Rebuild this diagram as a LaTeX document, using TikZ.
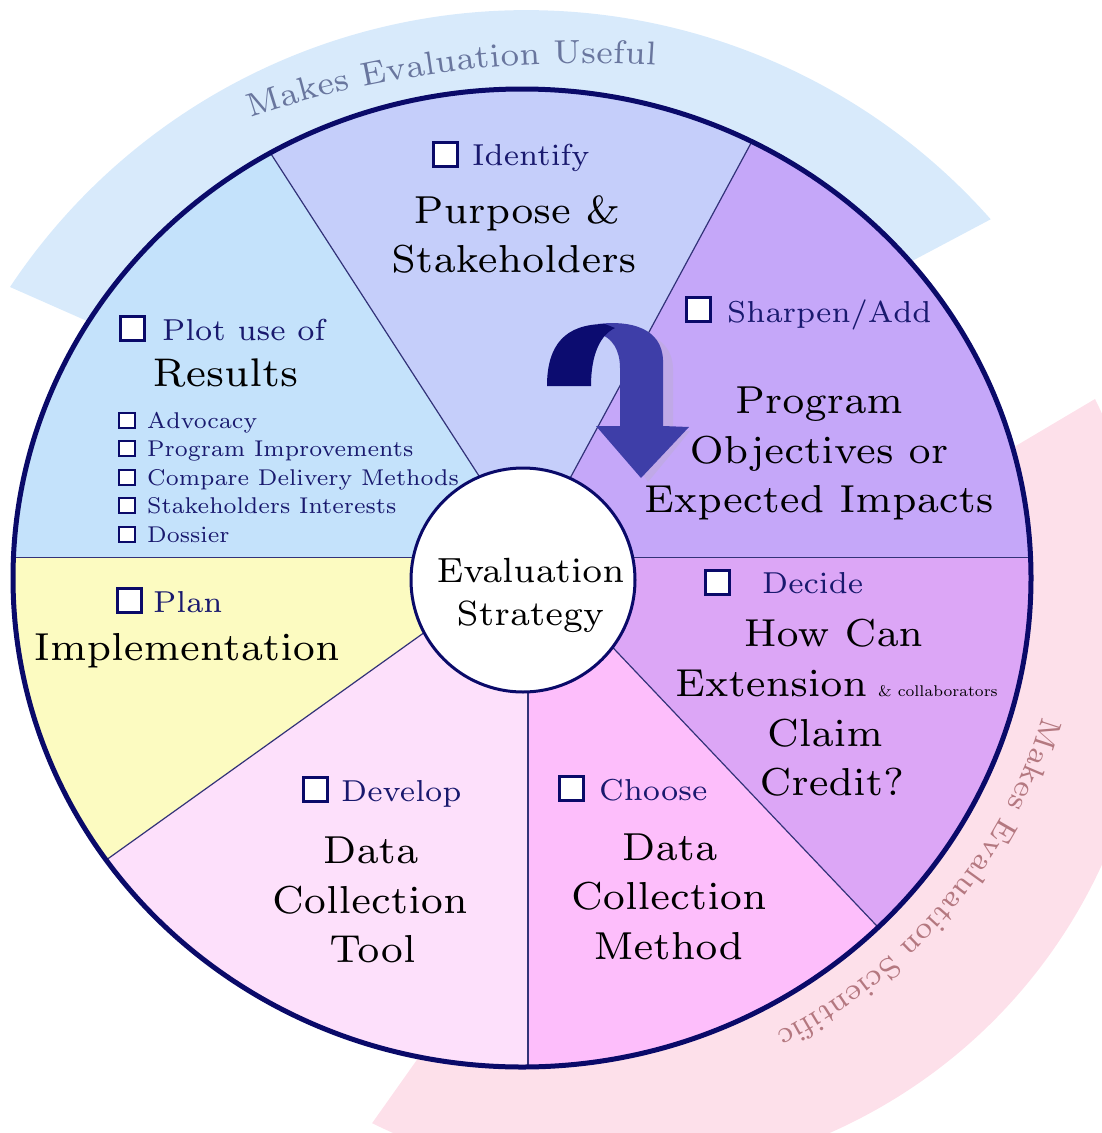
\documentclass[tikz,border=0pt]{standalone}
\usetikzlibrary{decorations.text}
\font\fbig=cmr7 at 39pt
\font\flab=cmr7 at 30.3pt
\font\flist=cmr7 at 22.8pt
\font\fres=cmr7 at 40pt
\font\fctr=cmr7 at 35pt
\font\fsmall=cmr7 at 15.5pt
\font\fbandB=cmr7 at 33pt
\font\fbandP=cmr7 at 30.5pt
\definecolor{cRes}{RGB}{196,226,251}
\definecolor{cPur}{RGB}{197,206,250}
\definecolor{cPro}{RGB}{197,167,249}
\definecolor{cDec}{RGB}{220,166,246}
\definecolor{cCho}{RGB}{253,190,251}
\definecolor{cDev}{RGB}{253,224,251}
\definecolor{cPla}{RGB}{252,251,193}
\definecolor{bandB}{RGB}{216,234,251}
\definecolor{bandP}{RGB}{253,224,234}
\definecolor{navy}{RGB}{10,10,105}
\definecolor{divc}{RGB}{50,50,120}
\definecolor{labc}{RGB}{25,25,110}
\definecolor{txtB}{RGB}{105,118,158}
\definecolor{txtP}{RGB}{180,120,128}
\definecolor{arrL}{RGB}{62,62,168}
\definecolor{arrD}{RGB}{12,12,112}
\begin{document}
\begin{tikzpicture}[x=1pt,y=-1pt,
  big/.style={font=\fbig, text=black, anchor=base, inner sep=0pt},
  lab/.style={font=\flab, text=labc, anchor=base west, inner sep=0pt},
  lst/.style={font=\flist, text=labc, anchor=base west, inner sep=0pt},
  cbox/.style={draw=navy, fill=white, line width=3pt, minimum size=24pt, inner sep=0pt},
  sbox/.style={draw=navy, fill=white, line width=2pt, minimum width=16pt, minimum height=15pt, inner sep=0pt},
  divider/.style={draw=divc, line width=1.2pt}]
\useasboundingbox (0,0) rectangle (1102,1133);
\clip (0,0) rectangle (1102,1133);
% bands
\fill[bandB] (10,287) arc[start angle=-146.4,end angle=-41.5,radius=620] -- (880,278) -- (522,578) -- (130,340) -- cycle;
\fill[bandP] (1095,399) arc[start angle=-26.4,end angle=116.3,radius=540] -- (426,1047) -- (522,578) -- (987,463) -- cycle;
\path[decorate, decoration={text along path, text align=center,
  text={|\fbandB\color{txtB}|Makes Evaluation Useful}}]
  ([shift={(-112.3:1067)}]586,1130) arc[start angle=-112.3, end angle=-82.3, radius=1067];
\path[decorate, decoration={text along path, text align=center,
  text={|\fbandP\color{txtP}|Makes Evaluation Scientific}}]
  ([shift={(1:540 and 515)}]522,578) arc[start angle=1, end angle=76, x radius=540, y radius=515];
% sectors
\begin{scope}
\clip (522,578) ellipse [x radius=509, y radius=489];
\fill[cRes] (523,580) -- (470,557.5) -- (-5,557.5) -- (-5,-5) -- (168.35,-5) -- (491.3,495) -- cycle;
\fill[cPur] (523,580) -- (491.3,495) -- (168.35,-5) -- (831,-5) -- (558.3,500) -- cycle;
\fill[cPro] (523,580) -- (558.3,500) -- (831,-5) -- (1107,-5) -- (1107,557.5) -- (575,557.5) -- cycle;
\fill[cDec] (523,580) -- (575,557.5) -- (1107,557.5) -- (1107,1138) -- (1078,1138) -- (570,602.4) -- cycle;
\fill[cCho] (523,580) -- (570,602.4) -- (1078,1138) -- (528,1138) -- (528,600) -- cycle;
\fill[cDev] (523,580) -- (528,600) -- (528,1138) -- (-5,1138) -- (-5,939.5) -- (470,599.8) -- cycle;
\fill[cPla] (523,580) -- (470,599.8) -- (-5,939.5) -- (-5,557.5) -- (470,557.5) -- cycle;
\draw[divider] (168.35,-5) -- (491.3,495);
\draw[divider] (831,-5) -- (558.3,500);
\draw[divider] (-5,557.5) -- (470,557.5);
\draw[divider] (575,557.5) -- (1107,557.5);
\draw[divider] (-5,939.5) -- (470,599.8);
\draw[divider] (528,600) -- (528,1138);
\draw[divider] (570,602.4) -- (1078,1138);
\end{scope}
\draw[navy, line width=5pt] (522,578) ellipse [x radius=509, y radius=489];
% curved arrow
\fill[black!30, opacity=0.25] (608,332) .. controls (640,328) and (672,336) .. (673,368) -- (673,430) -- (690,431) -- (648,482) -- (640,470) -- (630,432) -- (630,376) .. controls (630,358) and (622,346) .. (610,342) -- cycle;
\fill[arrL] (598,324) .. controls (630,320) and (662,328) .. (663,360) -- (663,426) -- (689,427) -- (641,478) -- (596,426) -- (620,426) -- (620,368) .. controls (620,350) and (612,338) .. (600,334) -- cycle;
\fill[arrD] (547,386) .. controls (547,345) and (565,324) .. (605,324) -- (615,328) .. controls (600,335) and (591,355) .. (591,386) -- cycle;
% hub
\node[draw=navy, line width=3pt, fill=white, circle, minimum size=224pt, inner sep=0pt] (hub) at (523,580) {};
\node[font=\fctr, anchor=base, inner sep=0pt] (ev1) at (530.5,582) {Evaluation};
\node[font=\fctr, anchor=base, inner sep=0pt] (ev2) at (530.5,625) {Strategy};
% Identify / Purpose
\node[cbox] (b-id) at (445,154) {};
\node[lab] (l-id) at (472,165) {Identify};
\node[big] (t-pur1) at (517,223) {Purpose \&};
\node[big] (t-pur2) at (514,272) {Stakeholders};
% Sharpen / Program
\node[cbox] (b-sh) at (698,309) {};
\node[lab] (l-sh) at (727,322) {Sharpen/Add};
\node[big] (t-pro1) at (819,413) {Program};
\node[big] (t-pro2) at (819,463) {Objectives or};
\node[big] (t-pro3) at (819,512) {Expected Impacts};
% Plot / Results
\node[cbox] (b-pl) at (132,328) {};
\node[lab] (l-pl) at (162,340) {Plot use of};
\node[big, font=\fres] (t-res) at (225.5,386) {Results};
\node[sbox] (s1) at (127,420) {};
\node[lst] (i1) at (147,428) {Advocacy};
\node[sbox] (s2) at (127,448.5) {};
\node[lst] (i2) at (147,456.5) {Program Improvements};
\node[sbox] (s3) at (127,477) {};
\node[lst] (i3) at (147,485) {Compare Delivery Methods};
\node[sbox] (s4) at (127,505.5) {};
\node[lst] (i4) at (147,513.5) {Stakeholders Interests};
\node[sbox] (s5) at (127,534) {};
\node[lst] (i5) at (147,542) {Dossier};
% Plan
\node[cbox] (b-pn) at (129,600) {};
\node[lab] (l-pn) at (153,612) {Plan};
\node[big] (t-imp) at (187,660) {Implementation};
% Decide
\node[cbox] (b-de) at (717,582) {};
\node[lab] (l-de) at (762,593) {Decide};
\node[big] (t-de1) at (833.5,646) {How Can};
\node[big, anchor=base west] (t-de2) at (675,696) {Extension};
\node[font=\fsmall, anchor=base west, inner sep=0pt] (t-de2b) at (878,696) {\& collaborators};
\node[big] (t-de3) at (825,746) {Claim};
\node[big] (t-de4) at (832,795) {Credit?};
% Develop
\node[cbox] (b-dv) at (315,789) {};
\node[lab] (l-dv) at (341,801) {Develop};
\node[big] (t-dv1) at (370.5,863) {Data};
\node[big] (t-dv2) at (370,913) {Collection};
\node[big] (t-dv3) at (372.5,962) {Tool};
% Choose
\node[cbox] (b-ch) at (571,788) {};
\node[lab] (l-ch) at (599,800) {Choose};
\node[big] (t-ch1) at (669.5,860) {Data};
\node[big] (t-ch2) at (669,909) {Collection};
\node[big] (t-ch3) at (668.5,959) {Method};
\end{tikzpicture}
\end{document}
